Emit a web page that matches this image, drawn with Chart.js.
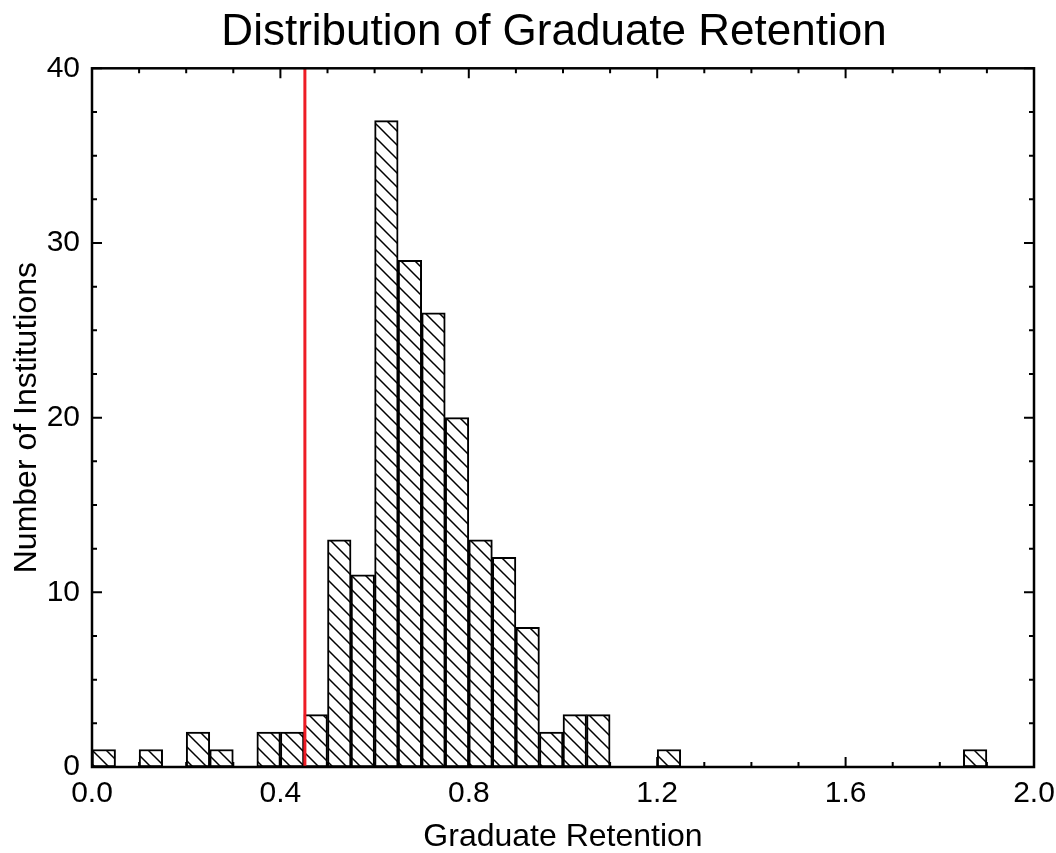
<!DOCTYPE html>
<html><head><meta charset="utf-8">
<script src="https://cdn.jsdelivr.net/npm/chart.js@4/dist/chart.umd.min.js"></script>
<style>html,body{margin:0;padding:0;background:#fff;}#wrap{width:1056px;height:853px;}</style>
</head><body><div id="wrap"><canvas id="c" width="1056" height="853"></canvas></div>
<script>
// ---- data ----
const binCenters = [0.025,0.075,0.125,0.175,0.225,0.275,0.325,0.375,0.425,0.475,
                    0.525,0.575,0.625,0.675,0.725,0.775,0.825,0.875,0.925,0.975,
                    1.025,1.075,1.125,1.175,1.225,1.275,1.325,1.375,1.425,1.475,
                    1.525,1.575,1.625,1.675,1.725,1.775,1.825,1.875,1.925,1.975];
const counts = [1,0,1,0,2,1,0,2,2,3,
                13,11,37,29,26,20,13,12,8,2,
                3,3,0,0,1,0,0,0,0,0,
                0,0,0,0,0,0,0,1,0,0];
const thresholdX = [0.452, 0.452];
const thresholdY = [0, 40];
const xMajorTicks = [0, 0.4, 0.8, 1.2, 1.6, 2.0];
const xMinorTicks = [0.1,0.2,0.3,0.5,0.6,0.7,0.9,1.0,1.1,1.3,1.4,1.5,1.7,1.8,1.9];
const yMajorTicks = [0, 10, 20, 30, 40];
const yMinorTicks = [2.5,5,7.5,12.5,15,17.5,22.5,25,27.5,32.5,35,37.5];
const titleText = 'Distribution of Graduate Retention';
const xTitle = 'Graduate Retention';
const yTitle = 'Number of Institutions';

const FONT = "'Liberation Sans', Arial, sans-serif";
Chart.defaults.font.family = FONT;
Chart.defaults.color = '#000';

const canvas = document.getElementById('c');
const ctx0 = canvas.getContext('2d');
function makeHatch(){
  const s = 14;
  const c = document.createElement('canvas'); c.width = s; c.height = s;
  const g = c.getContext('2d');
  g.fillStyle = '#fff'; g.fillRect(0,0,s,s);
  g.strokeStyle = '#000'; g.lineWidth = 1.5;
  g.beginPath();
  g.moveTo(-2,-2); g.lineTo(s+2,s+2);
  g.moveTo(-2,s-2); g.lineTo(2,s+2);
  g.moveTo(s-2,-2); g.lineTo(s+2,2);
  g.stroke();
  return ctx0.createPattern(c,'repeat');
}
const hatch = makeHatch();

const titlePlugin = {
  id: 'topTitle',
  afterDraw(chart){
    const {ctx} = chart;
    ctx.save();
    ctx.fillStyle = '#000';
    ctx.font = "44px " + FONT;
    ctx.textAlign = 'center';
    ctx.textBaseline = 'middle';
    ctx.fillText(titleText, 554, 33);
    ctx.restore();
  }
};

const framePlugin = {
  id: 'frame',
  afterDatasetsDraw(chart){
    const {ctx, chartArea: a, scales: {x, y}} = chart;
    ctx.save();
    ctx.strokeStyle = '#000';
    ctx.lineWidth = 2.5;
    ctx.strokeRect(a.left, a.top, a.right - a.left, a.bottom - a.top);
    ctx.lineWidth = 2;
    ctx.beginPath();
    const tick = (vals, len) => {
      vals.forEach(v => {
        const px = x.getPixelForValue(v);
        ctx.moveTo(px, a.bottom); ctx.lineTo(px, a.bottom - len);
        ctx.moveTo(px, a.top); ctx.lineTo(px, a.top + len);
      });
    };
    const tickY = (vals, len) => {
      vals.forEach(v => {
        const py = y.getPixelForValue(v);
        ctx.moveTo(a.left, py); ctx.lineTo(a.left + len, py);
        ctx.moveTo(a.right, py); ctx.lineTo(a.right - len, py);
      });
    };
    tick(xMajorTicks, 10); tick(xMinorTicks, 5);
    tickY(yMajorTicks, 10); tickY(yMinorTicks, 5);
    ctx.stroke();
    ctx.restore();
  }
};

new Chart(canvas, {
  type: 'bar',
  data: {
    datasets: [
      {
        type: 'line',
        data: thresholdX.map((v,i) => ({x: v, y: thresholdY[i]})),
        borderColor: '#ee1c25',
        borderWidth: 3,
        pointRadius: 0,
        order: 0
      },
      {
        type: 'bar',
        data: binCenters.map((v,i) => ({x: v, y: counts[i]})),
        backgroundColor: hatch,
        borderColor: '#000',
        borderWidth: ctx => (ctx.raw && ctx.raw.y > 0) ? 2 : 0,
        borderSkipped: false,
        barPercentage: 1,
        categoryPercentage: 1,
        order: 1
      }
    ]
  },
  options: {
    responsive: false,
    animation: false,
    devicePixelRatio: 1,
    layout: { padding: { left: 0, right: 22, top: 68.3, bottom: 0 } },
    plugins: {
      legend: { display: false },
      tooltip: { enabled: false },
      title: { display: false }
    },
    scales: {
      x: {
        type: 'linear',
        min: 0, max: 2,
        offset: false,
        grid: { display: false, drawTicks: false },
        border: { display: false },
        afterBuildTicks: s => { s.ticks = xMajorTicks.map(v => ({value: v})); },
        afterFit: s => { s.height = 86; s.paddingRight = 0; s.paddingLeft = 0; },
        ticks: {
          color: '#000',
          font: { size: 30, family: FONT },
          padding: 9,
          maxRotation: 0, autoSkip: false,
          callback: v => Number(v).toFixed(1)
        },
        title: {
          display: true, text: xTitle, color: '#000',
          font: { size: 32, family: FONT, lineHeight: 1 },
          padding: { top: 0, bottom: 0 }
        }
      },
      y: {
        type: 'linear',
        min: 0, max: 40,
        grid: { display: false, drawTicks: false },
        border: { display: false },
        afterBuildTicks: s => { s.ticks = yMajorTicks.map(v => ({value: v})); },
        afterFit: s => { s.width = 92; s.paddingTop = 0; s.paddingBottom = 0; },
        ticks: {
          color: '#000',
          font: { size: 30, family: FONT },
          padding: 12,
          autoSkip: false,
          callback: v => String(v)
        },
        title: {
          display: true, text: yTitle, color: '#000',
          font: { size: 32, family: FONT },
          padding: { top: 8, bottom: 0 }
        }
      }
    }
  },
  plugins: [framePlugin, titlePlugin]
});
</script>
</body></html>
